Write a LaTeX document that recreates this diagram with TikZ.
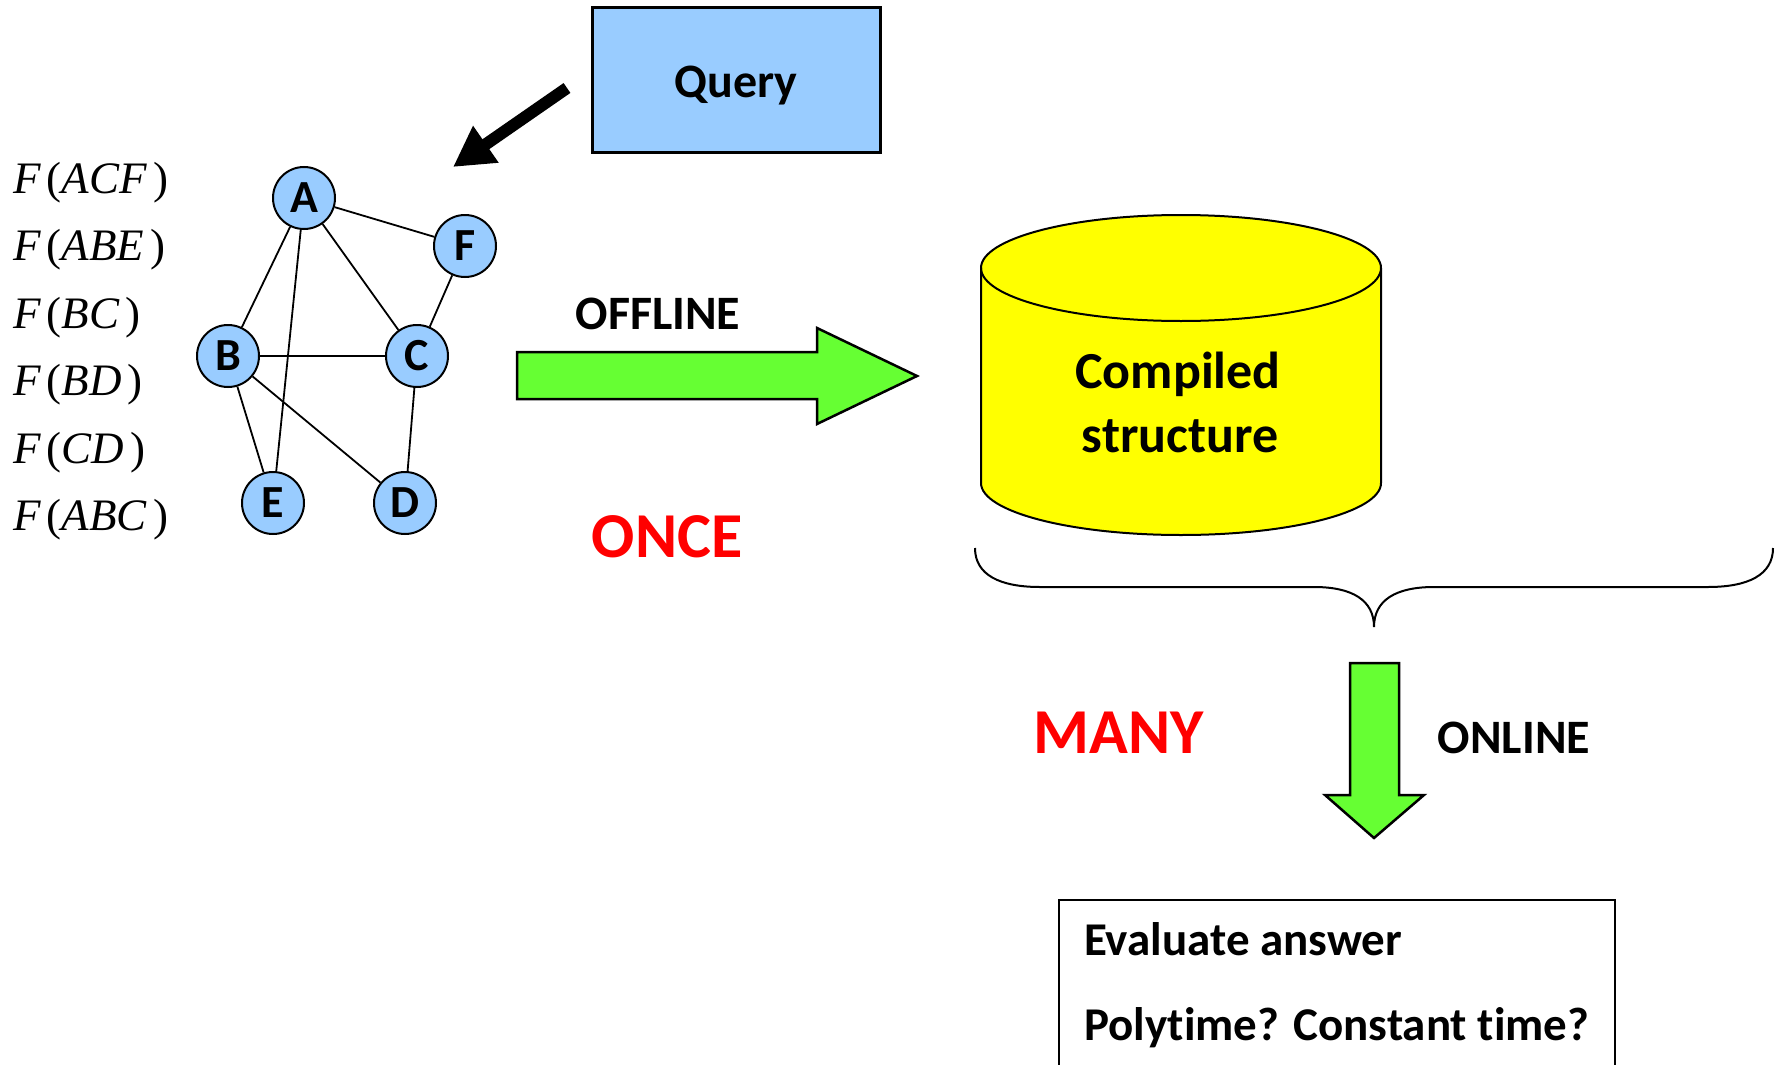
\documentclass[tikz,border=0pt]{standalone}
\usepackage{fontspec}
\setmainfont[Ligatures=NoCommon]{Carlito}
\newfontfamily\serifit{Liberation Serif}
\usetikzlibrary{arrows.meta}
\definecolor{nodeblue}{HTML}{99CCFF}
\definecolor{arrowgreen}{HTML}{66FF33}
\definecolor{dbyellow}{HTML}{FFFF00}
\definecolor{labelred}{HTML}{FF0000}
\newcommand\fterm[1]{{\itshape F}\kern6pt({\itshape #1\/}\kern6pt)}
\newcommand\fsz[1]{\fontsize{#1}{#1}\selectfont}

\begin{document}
\begin{tikzpicture}[x=1pt,y=-1pt,
  vertex/.style={circle,draw=black,line width=2pt,fill=nodeblue,
    minimum size=62pt,inner sep=0pt,font=\fsz{46}\bfseries},
  edge/.style={line width=1.8pt},
  formula/.style={anchor=base west,inner sep=0pt,font=\serifit\fsz{45}},
  bigarrow/.style={draw=black,line width=2.5pt,fill=arrowgreen,line join=miter},
  caption/.style={inner sep=0pt,font=\fsz{48}\bfseries},
  redword/.style={inner sep=0pt,text=labelred,font=\fsz{64}\bfseries},
  dbtext/.style={anchor=base,inner sep=0pt,font=\fsz{52}\bfseries},
  boxline/.style={anchor=base west,inner sep=0pt,font=\fsz{47}\bfseries}]

\useasboundingbox (0,0) rectangle (1778,1065);

% factor list
\node[formula] (f1) at (13,193)   {\fterm{ACF}};
\node[formula] (f2) at (13,260.5) {\fterm{ABE}};
\node[formula] (f3) at (13,328)   {\fterm{BC}};
\node[formula] (f4) at (13,395.5) {\fterm{BD}};
\node[formula] (f5) at (13,463)   {\fterm{CD}};
\node[formula] (f6) at (13,530.5) {\fterm{ABC}};

% graph
\node[vertex] (A) at (304,198) {A};
\node[vertex] (F) at (465,246) {F};
\node[vertex] (B) at (228,356) {B};
\node[vertex] (C) at (417,356) {C};
\node[vertex] (E) at (273,503) {E};
\node[vertex] (D) at (405,503) {D};
\foreach \u/\v in {A/F,A/B,A/E,A/C,F/C,B/C,B/E,B/D,C/D}
  \draw[edge] (\u) -- (\v);

% query
\node[draw=black,line width=3pt,fill=nodeblue,minimum width=288pt,minimum height=144pt]
  (Q) at (736,80) {};
\node[anchor=base,inner sep=0pt,font=\fsz{48}\bfseries] (qlabel) at (736,97) {Query};
\coordinate (qs) at (567,88);
\coordinate (qt) at (453,167);
\draw[line width=12pt,-{Triangle[length=40pt,width=42pt]}] (qs) -- (qt);

% offline arrow
\draw[bigarrow] (517,352) -- (817,352) -- (817,328) -- (917,376) -- (817,424)
  -- (817,399) -- (517,399) -- cycle;
\node[caption] (off) at (658,314) {OFFLINE};
\node[redword] (once) at (667,537) {ONCE};

% compiled structure (cylinder; y grows downwards)
\draw[line width=2pt,fill=dbyellow] (981,268) -- (981,483)
  arc[start angle=180,end angle=0,x radius=200,y radius=52] -- (1381,268)
  arc[start angle=0,end angle=-180,x radius=200,y radius=53] -- cycle;
\draw[line width=2pt] (981,268) arc[start angle=180,end angle=0,x radius=200,y radius=53];
\node[dbtext] (cs1) at (1178,388) {Compiled};
\node[dbtext] (cs2) at (1180,452) {structure};

% brace
\draw[line width=2pt] (975,548) .. controls (975,575) and (1000,587) .. (1040,587)
  -- (1314,587) .. controls (1352,587) and (1374,600) .. (1374,627)
  .. controls (1374,600) and (1396,587) .. (1434,587)
  -- (1708,587) .. controls (1748,587) and (1773,575) .. (1773,548);

% online arrow
\draw[bigarrow] (1350,663) -- (1399,663) -- (1399,795) -- (1424,795) -- (1374,838)
  -- (1325,795) -- (1350,795) -- cycle;
\node[redword] (many) at (1119,733) {MANY};
\node[caption] (on) at (1514,738) {ONLINE};

% evaluation box
\draw[line width=2pt] (1059,1070) -- (1059,900) -- (1615,900) -- (1615,1070);
\node[boxline] (ev) at (1084,955) {Evaluate answer};
\node[boxline] (pt) at (1084,1040) {Polytime? Constant time?};
\end{tikzpicture}
\end{document}
